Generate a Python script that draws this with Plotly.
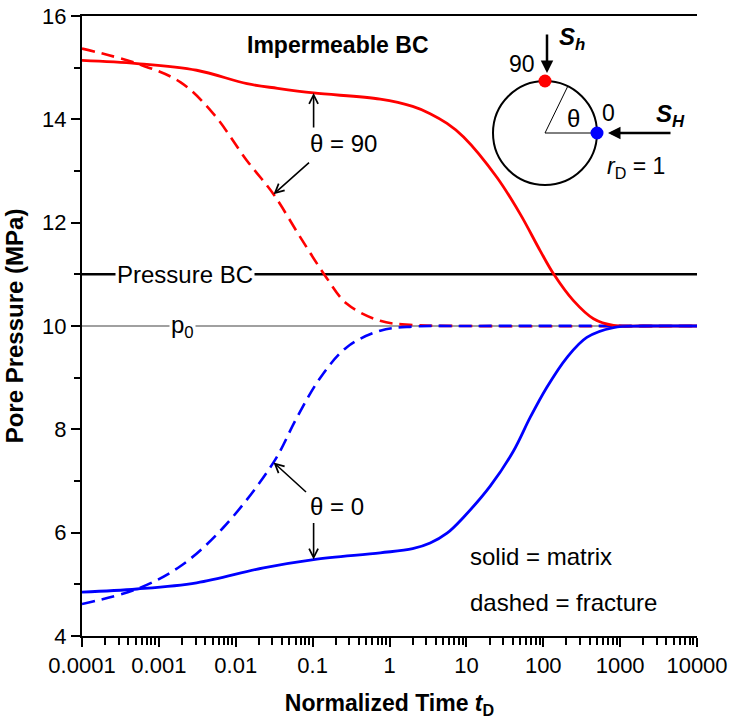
import numpy as np
import plotly.graph_objects as go

# ---------------- data ----------------
t_red_solid = [1e-4, 5.2e-4, 3.1e-3, 0.014, 0.035, 0.103, 0.757, 2.0, 3.38, 5.6, 9.2, 24.9, 50, 91, 136, 247, 450, 818, 2000, 1e4]
p_red_solid = [15.14, 15.08, 14.95, 14.69, 14.60, 14.51, 14.39, 14.25, 14.11, 13.92, 13.66, 12.88, 12.17, 11.46, 11.01, 10.49, 10.14, 10.01, 10.0, 10.0]

t_red_dashed = [1e-4, 5.2e-4, 1.9e-3, 5.1e-3, 0.014, 0.031, 0.069, 0.146, 0.279, 0.757, 2, 10, 1e4]
p_red_dashed = [15.37, 15.08, 14.72, 14.11, 13.20, 12.55, 11.72, 10.97, 10.43, 10.10, 10.02, 10.0, 10.0]

t_blue_solid = [1e-4, 5.2e-4, 3.1e-3, 0.023, 0.103, 0.757, 2.0, 3.38, 5.6, 9.2, 20.4, 41, 67.6, 111, 203, 369, 818, 2000, 1e4]
p_blue_solid = [4.85, 4.91, 5.03, 5.32, 5.48, 5.61, 5.69, 5.80, 5.99, 6.30, 6.90, 7.58, 8.23, 8.81, 9.39, 9.78, 9.97, 10.0, 10.0]

t_blue_dashed = [1e-4, 5.2e-4, 1.9e-3, 6.9e-3, 0.031, 0.0625, 0.126, 0.279, 0.757, 2, 10, 1e4]
p_blue_dashed = [4.62, 4.91, 5.35, 6.10, 7.36, 8.23, 9.00, 9.59, 9.91, 9.99, 10.0, 10.0]

p_initial = 10.0   # p0
p_bc = 11.0        # Pressure BC

x_tickvals = [1e-4, 1e-3, 1e-2, 1e-1, 1, 10, 100, 1000, 10000]
x_ticktext = ["0.0001", "0.001", "0.01", "0.1", "1", "10", "100", "1000", "10000"]
y_tickvals = [4, 6, 8, 10, 12, 14, 16]

# ---------------- layout helpers ----------------
W, H = 733, 719
ML, MR, MT, MB = 82, 36, 16, 83
PW, PH = W - ML - MR, H - MT - MB
FONT = "Arial, Liberation Sans, Helvetica, sans-serif"


def px(x):
    return (x - ML) / PW


def py(y):
    return (H - MB - y) / PH


fig = go.Figure()

# reference lines
fig.add_shape(type="line", xref="paper", yref="y", x0=0, x1=1, y0=p_initial, y1=p_initial,
              line=dict(color="#A0A0A0", width=2), layer="below")
fig.add_shape(type="line", xref="paper", yref="y", x0=0, x1=1, y0=p_bc, y1=p_bc,
              line=dict(color="black", width=2.5), layer="below")

RED, BLUE = "#FF0000", "#0000FF"
SM = 1.0
fig.add_trace(go.Scatter(x=t_red_dashed, y=p_red_dashed, mode="lines",
                         line=dict(color=RED, width=2.6, dash="13px,7px", shape="spline", smoothing=SM)))
fig.add_trace(go.Scatter(x=t_blue_dashed, y=p_blue_dashed, mode="lines",
                         line=dict(color=BLUE, width=2.6, dash="13px,7px", shape="spline", smoothing=SM)))
fig.add_trace(go.Scatter(x=t_red_solid, y=p_red_solid, mode="lines",
                         line=dict(color=RED, width=2.8, shape="spline", smoothing=SM)))
fig.add_trace(go.Scatter(x=t_blue_solid, y=p_blue_solid, mode="lines",
                         line=dict(color=BLUE, width=2.8, shape="spline", smoothing=SM)))

# ---------------- inset diagram ----------------
cx, cy, R = 545, 133, 52
fig.add_shape(type="circle", xref="paper", yref="paper",
              x0=px(cx - R), x1=px(cx + R), y0=py(cy + R), y1=py(cy - R),
              line=dict(color="black", width=2))
ang = np.deg2rad(64)
fig.add_shape(type="line", xref="paper", yref="paper",
              x0=px(cx), y0=py(cy), x1=px(cx + R), y1=py(cy), line=dict(color="black", width=1))
fig.add_shape(type="line", xref="paper", yref="paper",
              x0=px(cx), y0=py(cy), x1=px(cx + R * np.cos(ang)), y1=py(cy - R * np.sin(ang)),
              line=dict(color="black", width=1))
dr = 6.5
fig.add_shape(type="circle", xref="paper", yref="paper",
              x0=px(cx - dr), x1=px(cx + dr), y0=py(cy - R + dr), y1=py(cy - R - dr),
              line=dict(width=0), fillcolor=RED)
fig.add_shape(type="circle", xref="paper", yref="paper",
              x0=px(cx + R - dr), x1=px(cx + R + dr), y0=py(cy + dr), y1=py(cy - dr),
              line=dict(width=0), fillcolor=BLUE)

ann = []


def text(x, y, s, size=24, xanchor="center", bg=None, **kw):
    d = dict(x=px(x), y=py(y), xref="paper", yref="paper", text=s, showarrow=False,
             xanchor=xanchor, yanchor="middle", font=dict(family=FONT, size=size, color="black"))
    if bg:
        d.update(bgcolor=bg, borderpad=1)
    d.update(kw)
    ann.append(d)


def arrow_paper(xt, yt, ax, ay, width=1.5, head=5, size=1.0):
    ann.append(dict(x=px(xt), y=py(yt), xref="paper", yref="paper", text="", showarrow=True,
                    ax=ax, ay=ay, axref="pixel", ayref="pixel", arrowhead=head, arrowsize=size,
                    arrowwidth=width, arrowcolor="black", standoff=0))


def arrow_data(t, p, ax, ay, width=1.6):
    ann.append(dict(x=float(np.log10(t)), y=p, xref="x", yref="y", text="", showarrow=True,
                    ax=ax, ay=ay, axref="pixel", ayref="pixel", arrowhead=5, arrowsize=1.1,
                    arrowwidth=width, arrowcolor="black", standoff=0))


text(338, 45, "<b>Impermeable BC</b>", size=23)
text(185, 274, "Pressure BC", size=24, bg="white")
text(182, 326, "p<sub>0</sub>", size=24, bg="white")
text(343, 143, "θ = 90", size=24)
text(337, 506, "θ = 0", size=24)
text(468, 556, "solid = matrix", size=24, xanchor="left")
text(468, 602, "dashed = fracture", size=24, xanchor="left")

text(522, 64, "90", size=23)
text(608, 113, "0", size=23)
text(573, 118, "θ", size=24)
text(572, 38, "<b><i>S<sub>h</sub></i></b>", size=24)
text(670, 116, "<b><i>S<sub>H</sub></i></b>", size=24)
text(636, 167, "<i>r</i><sub>D</sub> = 1", size=23)

arrow_paper(547, 73, 0, -40, width=2.5, head=2, size=1.0)
arrow_paper(608, 133, 64, 0, width=2.5, head=2, size=1.0)

arrow_data(t_red_solid[5], p_red_solid[5], 0, 36)
arrow_data(t_red_dashed[5], p_red_dashed[5], 37, -33)
arrow_data(t_blue_dashed[4], p_blue_dashed[4], 34, 31)
arrow_data(t_blue_solid[4], p_blue_solid[4], 0, -38)

# ---------------- axes ----------------
minor_x = [k * 10.0 ** n for n in range(-4, 4) for k in range(2, 10)]

fig.update_layout(
    width=W, height=H, margin=dict(l=ML, r=MR, t=MT, b=MB, autoexpand=False),
    paper_bgcolor="white", plot_bgcolor="white", showlegend=False,
    font=dict(family=FONT, size=22, color="black"),
    annotations=ann,
    xaxis=dict(type="log", range=[-4, 4], tickvals=x_tickvals, ticktext=x_ticktext,
               ticks="outside", ticklen=9, tickwidth=2, tickcolor="black", automargin=False,
               showline=True, linewidth=2, linecolor="black", mirror=True,
               showgrid=False, zeroline=False, tickfont=dict(size=22),
               minor=dict(tickvals=minor_x, ticks="outside", ticklen=7, tickwidth=1.5, tickcolor="black"),
               title=dict(text="<b>Normalized Time <i>t</i><sub>D</sub></b>", font=dict(size=23), standoff=18)),
    yaxis=dict(range=[4, 16], tickvals=y_tickvals, ticks="outside", ticklen=9, tickwidth=2,
               tickcolor="black", showline=True, linewidth=2, linecolor="black", automargin=False,
               showgrid=False, zeroline=False, tickfont=dict(size=22),
               minor=dict(dtick=1, ticks="outside", ticklen=6, tickwidth=1.5, tickcolor="black"),
               title=dict(text="<b>Pore Pressure (MPa)</b>", font=dict(size=24), standoff=12)),
    yaxis2=dict(range=[4, 16], overlaying="y", side="right", showticklabels=False, automargin=False,
                ticks="inside", dtick=1, ticklen=8, tickwidth=1.5, tickcolor="black",
                showline=True, linewidth=2, linecolor="black", showgrid=False, zeroline=False),
)

fig.write_html("out.html")
